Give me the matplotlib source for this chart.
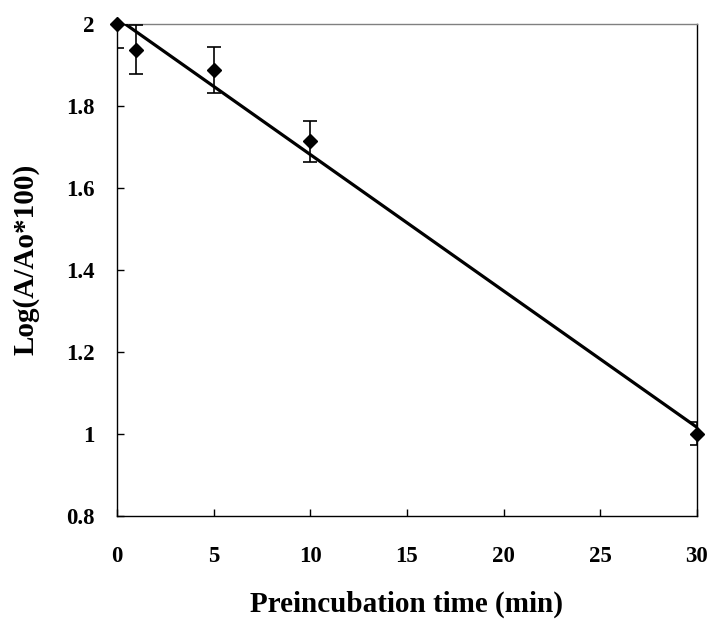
import numpy as np
import matplotlib.pyplot as plt

plt.rcParams['font.family'] = ['Liberation Serif', 'DejaVu Serif']
plt.rcParams['font.weight'] = 'bold'

# %% datos
tiempo = [0, 1, 5, 10, 30]
logact = [2.0, 1.937, 1.888, 1.713, 1.0]
error = [0.06, 0.059, 0.056, 0.05, 0.028]

pend, inter = np.polyfit(tiempo, logact, 1)
xl = np.array([0, 30])

# %% grafica
fig = plt.figure(figsize=(7.14, 6.26), dpi=100)
ax = fig.add_axes([0.164, 0.176, 0.812, 0.786])

ax.plot(xl, pend * xl + inter, color='black', lw=2.3, zorder=3)
ax.errorbar(tiempo, logact, yerr=error, fmt='none', ecolor='black',
            elinewidth=1.2, capsize=5, capthick=1.2, zorder=4)
ax.plot(tiempo, logact, 'D', color='black', ms=7.5, zorder=5, clip_on=False)

ax.set_xlim(0, 30)
ax.set_ylim(0.8, 2)
ax.set_xticks([0, 5, 10, 15, 20, 25, 30])
ax.set_yticks([0.8, 1, 1.2, 1.4, 1.6, 1.8, 2])
ax.set_yticklabels(['0.8', '1', '1.2', '1.4', '1.6', '1.8', '2'])
ax.tick_params(axis='both', direction='in', length=5, width=1, labelsize=16.5)
ax.tick_params(axis='x', pad=22)
ax.tick_params(axis='y', pad=16)
for lab in ax.get_xticklabels() + ax.get_yticklabels():
    lab.set_fontweight('bold')

ax.spines['top'].set_color('gray')
ax.spines['top'].set_linewidth(1)
for s in ['left', 'bottom', 'right']:
    ax.spines[s].set_linewidth(1)

ax.set_xlabel('Preincubation time (min)', fontsize=21, fontweight='bold', labelpad=17)
ax.set_ylabel('Log(A/Ao*100)', fontsize=21, fontweight='bold')
ax.yaxis.set_label_coords(-0.134, 0.522)

fig.savefig('out.png', dpi=100)
